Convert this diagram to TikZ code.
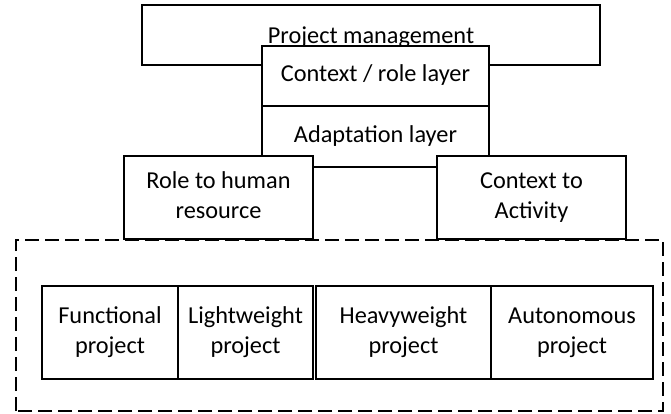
\documentclass[tikz,border=0pt]{standalone}
\usepackage{fontspec}
\setmainfont{Carlito}
\begin{document}
\begin{tikzpicture}[x=1pt,y=1pt,
  box/.style={draw=black, fill=white, line width=1.6pt, inner sep=0pt, align=center,
    font=\fontsize{24.3}{29.5}\selectfont},
  txt/.style={inner sep=0pt, font=\fontsize{24.3}{29.5}\selectfont},
  dashbox/.style={draw=black, line width=2.6pt, dash pattern=on 14pt off 6pt}]
\useasboundingbox (0,0) rectangle (671,413);
% dashed group
\draw[dashbox] (16,2) rectangle (663,173);
% project management
\node[box, minimum width=458pt, minimum height=60pt] (pm) at (371,378) {};
\node[txt, anchor=base] (pmtext) at (371,369) {Project management};
% layers
\node[box, minimum width=227pt, minimum height=60pt] (ctx) at (375.5,337) {\raisebox{-5pt}{\strut Context / role layer}};
\node[box, minimum width=227pt, minimum height=61pt] (adapt) at (375.5,276.5) {\raisebox{-4.7pt}{\strut Adaptation layer}};
% mappings
\node[box, minimum width=189pt, minimum height=83pt] (role) at (218.5,215.5) {\strut Role to human\\\strut resource};
\node[box, minimum width=189pt, minimum height=83pt] (cta) at (531.5,215.5) {\strut Context to\\\strut Activity};
% project types
\node[box, minimum width=136pt, minimum height=93pt] (func) at (110,80.5) {\strut Functional\\\strut project};
\node[box, minimum width=135pt, minimum height=93pt] (light) at (245.5,80.5) {\strut Lightweight\\\strut project};
\node[box, minimum width=175pt, minimum height=93pt] (heavy) at (403.5,80.5) {\strut Heavyweight\\\strut project};
\node[box, minimum width=162pt, minimum height=93pt] (auto) at (572,80.5) {\strut Autonomous\\\strut project};
\end{tikzpicture}
\end{document}
